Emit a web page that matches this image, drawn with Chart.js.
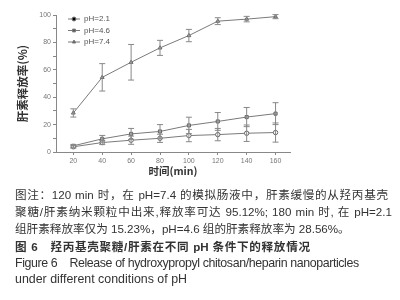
<!DOCTYPE html>
<html>
<head>
<meta charset="utf-8">
<script src="https://cdn.jsdelivr.net/npm/chart.js@4.4.0/dist/chart.umd.min.js"></script>
<style>
  body { margin: 0; background: #fff; width: 400px; height: 300px; overflow: hidden; }
  #wrap { position: absolute; left: 0; top: 0; width: 400px; height: 195px; }
  canvas { display: block; }
  .cap { position: absolute; left: 15px; white-space: nowrap; color: #333;
         font-family: "Liberation Sans", "Noto Sans CJK SC", sans-serif; font-size: 11.6px; line-height: 17px;
         text-align: justify; text-align-last: justify; overflow: visible; }
  .en { font-size: 12.4px; text-align: left; text-align-last: left; }
  .b { font-weight: bold; }
</style>
</head>
<body>
<div id="wrap"><canvas id="chartRelease" width="400" height="195"></canvas></div>
<div class="cap" style="top:186px; width:373px">图注：120 min 时，在 pH=7.4 的模拟肠液中，肝素缓慢的从羟丙基壳</div>
<div class="cap" style="top:203px; width:377px">聚糖/肝素纳米颗粒中出来,释放率可达 95.12%; 180 min 时, 在 pH=2.1</div>
<div class="cap" style="top:220px; width:313px">组肝素释放率仅为 15.23%，pH=4.6 组的肝素释放率为 28.56%。</div>
<div class="cap b" style="top:238px; width:295px">图 6　羟丙基壳聚糖/肝素在不同 pH 条件下的释放情况</div>
<div class="cap en" style="top:255px; letter-spacing:-0.4px">Figure 6&nbsp;&nbsp;&nbsp; Release of hydroxypropyl chitosan/heparin nanoparticles</div>
<div class="cap en" style="top:271px">under different conditions of pH</div>
<script>
const tempos = [20, 40, 60, 80, 100, 120, 140, 160];
const rotulos = ['pH=2.1', 'pH=4.6', 'pH=7.4'];
const ph21 = [3.8, 6.9, 8.6, 10.0, 12.0, 12.7, 13.7, 14.2];
const ph46 = [4.5, 9.6, 13.2, 15.0, 19.4, 22.3, 25.5, 28.0];
const ph74 = [28.5, 54.5, 65.5, 76.0, 85.0, 95.5, 97.0, 98.8];
const erro21 = [1.0, 1.5, 3.0, 3.0, 4.5, 4.5, 6.0, 7.0];
const erro46 = [1.0, 2.5, 4.0, 5.0, 6.0, 6.5, 7.0, 8.0];
const erro74 = [3.0, 10.0, 13.0, 5.5, 4.5, 2.5, 2.0, 1.5];
const yTicks = [0, 20, 40, 60, 80, 100];

const cinza = '#7a7a7a';
const fonteTick = { family: 'Liberation Sans', size: 7 };

const series = [
    { label: rotulos[0], valores: ph21, erros: erro21, estilo: 'circle', fundo: '#fff' },
    { label: rotulos[1], valores: ph46, erros: erro46, estilo: 'rect', fundo: '#bbb' },
    { label: rotulos[2], valores: ph74, erros: erro74, estilo: 'triangle', fundo: '#bbb' }
];

// barras de erro desenhadas pelas escalas do proprio grafico
const barrasErro = {
    id: 'barrasErro',
    afterDatasetsDraw(chart) {
        const { ctx, scales: { x, y } } = chart;
        ctx.save();
        ctx.strokeStyle = '#888';
        ctx.lineWidth = 1;
        series.forEach(s => {
            s.valores.forEach((v, i) => {
                const px = x.getPixelForValue(tempos[i]);
                const top = y.getPixelForValue(v + s.erros[i]);
                const bot = y.getPixelForValue(v - s.erros[i]);
                ctx.beginPath();
                ctx.moveTo(px, top); ctx.lineTo(px, bot);
                ctx.moveTo(px - 3, top); ctx.lineTo(px + 3, top);
                ctx.moveTo(px - 3, bot); ctx.lineTo(px + 3, bot);
                ctx.stroke();
            });
        });
        ctx.restore();
    }
};

// legenda dentro da area do grafico, canto superior esquerdo
const legendaInterna = {
    id: 'legendaInterna',
    afterDraw(chart) {
        const { ctx } = chart;
        ctx.save();
        ctx.font = '8px "Liberation Sans"';
        ctx.textBaseline = 'middle';
        series.forEach((s, i) => {
            const yy = 19 + i * 11.5;
            ctx.strokeStyle = cinza;
            ctx.lineWidth = 1;
            ctx.beginPath();
            ctx.moveTo(68, yy); ctx.lineTo(80, yy);
            ctx.stroke();
            Chart.helpers.drawPoint(ctx, {
                pointStyle: s.estilo, radius: 2, borderWidth: 1
            }, 74, yy);
            ctx.fillStyle = '#555';
            ctx.fillText(s.label, 84, yy);
        });
        ctx.restore();
    }
};

const ctx = document.getElementById('chartRelease');
new Chart(ctx, {
    type: 'line',
    data: {
        datasets: series.map(s => ({
            label: s.label,
            data: tempos.map((t, i) => ({ x: t, y: s.valores[i] })),
            borderColor: cinza,
            borderWidth: 1,
            pointStyle: s.estilo,
            pointRadius: 2.2,
            pointBackgroundColor: s.fundo,
            pointBorderColor: '#666',
            pointBorderWidth: 1,
            tension: 0
        }))
    },
    options: {
        responsive: false,
        animation: false,
        layout: { padding: { top: 15, left: 16, right: 110, bottom: 0 } },
        plugins: { legend: { display: false }, tooltip: { enabled: false } },
        scales: {
            x: {
                type: 'linear',
                min: 8,
                max: 170,
                afterBuildTicks: axis => { axis.ticks = tempos.map(v => ({ value: v })); },
                afterFit: axis => { axis.height = 43; },
                border: { color: '#888' },
                grid: { drawOnChartArea: false, tickLength: 3, color: '#888' },
                ticks: { color: '#777', font: fonteTick, padding: 2, maxRotation: 0 },
                title: {
                    display: true, text: '时间(min)', color: '#333', padding: { top: 0, bottom: 17.5 },
                    font: { family: 'Noto Sans CJK SC', size: 10.5, weight: 'bold' }
                }
            },
            y: {
                min: 0,
                max: 100,
                afterBuildTicks: axis => {
                    axis.ticks = [];
                    for (let v = 0; v <= 100; v += 10) axis.ticks.push({ value: v });
                },
                afterFit: axis => { axis.width = 40; },
                border: { color: '#888' },
                grid: { drawOnChartArea: false, tickLength: 3, color: '#888' },
                ticks: {
                    color: '#777', font: fonteTick, padding: 2,
                    callback: v => yTicks.includes(v) ? v : ''
                },
                title: {
                    display: true, text: '肝素释放率(%)', color: '#333', padding: 0,
                    font: { family: 'Noto Sans CJK SC', size: 11.5, weight: 'bold' }
                }
            }
        }
    },
    plugins: [barrasErro, legendaInterna]
});
</script>
</body>
</html>
